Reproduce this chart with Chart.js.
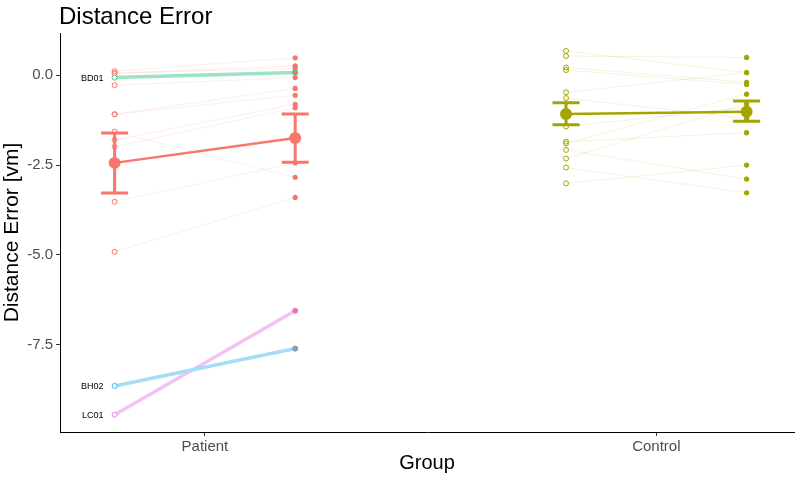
<!DOCTYPE html>
<html>
<head>
<meta charset="utf-8">
<script src="https://cdn.jsdelivr.net/npm/chart.js@4"></script>
<style>
  html, body { margin: 0; padding: 0; background: #fff; }
  #wrap { width: 800px; height: 480px; }
</style>
</head>
<body>
<div id="wrap"><canvas id="chart" width="800" height="480"></canvas></div>
<script>
// groups on the x axis
const groups = ['Patient', 'Control'];
const groupColors = ['#F8766D', '#A3A500'];

// individual subjects, first and second session
const patientPre  = [0.11, 0.05, 0.05, -0.07, -0.28, -1.09, -1.09, -1.57, -1.80, -1.99, -3.52, -4.91, -8.64, -9.44];
const patientPost = [0.48, 0.26, 0.19, 0.07, -0.07, -0.37, -0.56, -2.84, -0.81, -0.91, -2.44, -3.40, -7.60, -6.55];
const patientIds  = ['', '', '', 'BD01', '', '', '', '', '', '', '', '', 'BH02', 'LC01'];

const controlPre  = [0.67, 0.53, 0.21, 0.14, -0.48, -0.64, -1.43, -1.85, -1.90, -2.08, -2.32, -2.57, -3.01];
const controlPost = [0.07, 0.49, -0.20, -0.26, 0.07, -1.20, -0.90, -1.60, -0.53, -2.89, -0.80, -3.27, -2.50];

// highlighted subjects
const highlightIds = ['BD01', 'BH02', 'LC01'];
const highlightColors = ['#9BE3C5', '#A6DCF5', '#F3C2F4'];
const highlightPointColors = ['#3DBF8A', '#3DB2E8', '#E57BEE'];

// group means with error bars [pre, post]
const patientMean  = [-2.44, -1.75];
const patientLower = [-3.28, -2.42];
const patientUpper = [-1.61, -1.08];
const controlMean  = [-1.08, -1.02];
const controlLower = [-1.38, -1.28];
const controlUpper = [-0.77, -0.72];

const yTicks = [0, -2.5, -5, -7.5];

const DODGE = 0.2;
const CAP = 0.03;

function fade(hex, a) {
    let r = parseInt(hex.slice(1, 3), 16), g = parseInt(hex.slice(3, 5), 16), b = parseInt(hex.slice(5, 7), 16);
    return 'rgba(' + r + ',' + g + ',' + b + ',' + a + ')';
}

let datasets = [];

function addSubjects(gi, pre, post, ids) {
    let gx = gi + 1;
    let color = groupColors[gi];
    let prePts = [], postPts = [];
    for (let i = 0; i < pre.length; i++) {
        let hi = ids ? highlightIds.indexOf(ids[i]) : -1;
        datasets.push({
            data: [{x: gx - DODGE, y: pre[i]}, {x: gx + DODGE, y: post[i]}],
            showLine: true,
            borderColor: hi >= 0 ? highlightColors[hi] : fade(color, 0.13),
            borderWidth: hi >= 0 ? 3.5 : 1,
            pointRadius: 0,
            order: hi >= 0 ? 4 : 10
        });
        if (hi >= 0) {
            datasets.push({
                data: [{x: gx - DODGE, y: pre[i]}],
                pointRadius: 2.5,
                pointBorderWidth: 1,
                pointBorderColor: highlightPointColors[hi],
                pointBackgroundColor: '#fff',
                order: 3
            });
            datasets.push({
                data: [{x: gx + DODGE, y: post[i]}],
                pointRadius: 2.6,
                pointBorderWidth: 1,
                pointBorderColor: highlightPointColors[hi],
                pointBackgroundColor: color,
                order: 3
            });
        } else {
            prePts.push({x: gx - DODGE, y: pre[i]});
            postPts.push({x: gx + DODGE, y: post[i]});
        }
    }
    datasets.push({
        data: prePts,
        pointRadius: 2.5,
        pointBorderWidth: 1,
        pointBorderColor: color,
        pointBackgroundColor: 'transparent',
        order: 6
    });
    datasets.push({
        data: postPts,
        pointRadius: 2.6,
        pointBorderWidth: 0,
        pointBackgroundColor: color,
        order: 6
    });
}

function addSummary(gi, mean, lower, upper) {
    let gx = gi + 1;
    let color = groupColors[gi];
    datasets.push({
        data: [{x: gx - DODGE, y: mean[0]}, {x: gx + DODGE, y: mean[1]}],
        showLine: true,
        borderColor: color,
        borderWidth: 2.5,
        pointRadius: 6,
        pointBorderWidth: 0,
        pointBackgroundColor: color,
        order: 1
    });
    for (let k = 0; k < 2; k++) {
        let x = gx + (k === 0 ? -DODGE : DODGE);
        datasets.push({
            data: [
                {x: x - CAP, y: upper[k]}, {x: x + CAP, y: upper[k]}, {x: x, y: null},
                {x: x, y: upper[k]}, {x: x, y: lower[k]}, {x: x, y: null},
                {x: x - CAP, y: lower[k]}, {x: x + CAP, y: lower[k]}
            ],
            showLine: true,
            spanGaps: false,
            borderColor: color,
            borderWidth: 3,
            pointRadius: 0,
            order: 1
        });
    }
}

addSubjects(0, patientPre, patientPost, patientIds);
addSubjects(1, controlPre, controlPost, null);
addSummary(0, patientMean, patientLower, patientUpper);
addSummary(1, controlMean, controlLower, controlUpper);

const labelPlugin = {
    id: 'labels',
    afterDatasetsDraw(chart) {
        let ctx = chart.ctx;
        let xs = chart.scales.x, ys = chart.scales.y;
        ctx.save();
        ctx.font = '9px "Liberation Sans", Arial, sans-serif';
        ctx.fillStyle = '#000';
        ctx.textAlign = 'right';
        ctx.textBaseline = 'middle';
        patientIds.forEach((id, i) => {
            if (!id) return;
            ctx.fillText(id, xs.getPixelForValue(1 - DODGE) - 11, ys.getPixelForValue(patientPre[i]) + 1);
        });
        // plot title
        ctx.font = '24px "Liberation Sans", Arial, sans-serif';
        ctx.textAlign = 'left';
        ctx.textBaseline = 'alphabetic';
        ctx.fillText('Distance Error', chart.chartArea.left - 1, 24);
        ctx.restore();
    }
};

new Chart(document.getElementById('chart'), {
    type: 'scatter',
    data: {datasets: datasets},
    options: {
        responsive: false,
        animation: false,
        layout: {padding: {top: 33, right: 5, bottom: 2, left: 0}},
        plugins: {
            legend: {display: false},
            tooltip: {enabled: false}
        },
        scales: {
            x: {
                type: 'linear',
                min: 0.679,
                max: 2.305,
                afterBuildTicks: (scale) => { scale.ticks = groups.map((g, i) => ({value: i + 1})); },
                afterFit: (scale) => { scale.height = 46; },
                ticks: {
                    callback: (v) => groups[v - 1],
                    color: '#4D4D4D',
                    font: {family: '"Liberation Sans", Arial, sans-serif', size: 15},
                    padding: 2,
                    maxRotation: 0
                },
                grid: {drawOnChartArea: false, tickLength: 4, color: '#333'},
                border: {color: '#000', width: 1},
                title: {
                    display: true,
                    text: 'Group',
                    color: '#000',
                    font: {family: '"Liberation Sans", Arial, sans-serif', size: 20},
                    padding: {top: 0, bottom: 3}
                }
            },
            y: {
                type: 'linear',
                min: -9.92,
                max: 1.17,
                afterBuildTicks: (scale) => { scale.ticks = yTicks.map(v => ({value: v})); },
                afterFit: (scale) => { scale.width = 60; },
                ticks: {
                    callback: (v) => v.toFixed(1),
                    color: '#4D4D4D',
                    font: {family: '"Liberation Sans", Arial, sans-serif', size: 15},
                    padding: 3
                },
                grid: {drawOnChartArea: false, tickLength: 4, color: '#333'},
                border: {color: '#000', width: 1},
                title: {
                    display: true,
                    text: 'Distance Error [vm]',
                    color: '#000',
                    font: {family: '"Liberation Sans", Arial, sans-serif', size: 21},
                    padding: {top: 0, bottom: 0}
                }
            }
        }
    },
    plugins: [labelPlugin]
});
</script>
</body>
</html>
